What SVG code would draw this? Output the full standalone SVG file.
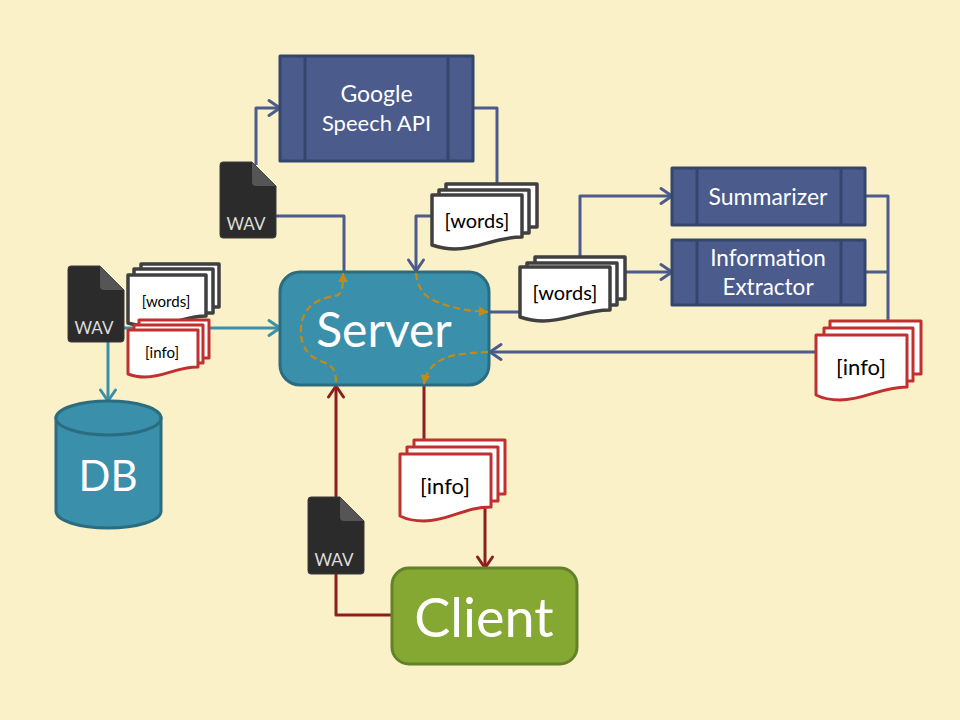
<svg xmlns="http://www.w3.org/2000/svg" width="960" height="720" viewBox="0 0 960 720">
<style>
text{font-family:"Lato","Liberation Sans",sans-serif;text-anchor:middle}
.w{fill:#fff}
.c{fill:none;stroke-width:3;stroke-linejoin:round}
.b{stroke:#4a5b8c}.t{stroke:#3a8fa9}.r{stroke:#8b1f1f}
.o{fill:none;stroke:#c48a14;stroke-width:2.2;stroke-dasharray:7 4}
.box{fill:#4a5b8c;stroke:#34466e;stroke-width:3;stroke-linejoin:round}
.in{fill:none;stroke:#34466e;stroke-width:3}
.pg{fill:#fff;stroke-width:3;stroke-linejoin:round}
.gr{stroke:#404040;stroke-width:3.500}.re{stroke:#c0302f}
.wv{fill:#2b2b2b;stroke:#3a3a3a;stroke-width:1;stroke-linejoin:round}
.fd{fill:#555}
.wt{fill:#ddd;font-size:17px}
.dt{fill:#000}
</style>
<defs>
<marker id="ab" markerUnits="userSpaceOnUse" markerWidth="20" markerHeight="20" refX="17" refY="10" orient="auto"><path d="M6 2.500L17 10L6 17.500" fill="none" stroke="#4a5b8c" stroke-width="3" stroke-linecap="round" stroke-linejoin="round"/></marker>
<marker id="at" markerUnits="userSpaceOnUse" markerWidth="20" markerHeight="20" refX="17" refY="10" orient="auto"><path d="M6 2.500L17 10L6 17.500" fill="none" stroke="#3a8fa9" stroke-width="3" stroke-linecap="round" stroke-linejoin="round"/></marker>
<marker id="ar" markerUnits="userSpaceOnUse" markerWidth="20" markerHeight="20" refX="17" refY="10" orient="auto"><path d="M6 2.500L17 10L6 17.500" fill="none" stroke="#8b1f1f" stroke-width="3" stroke-linecap="round" stroke-linejoin="round"/></marker>
<marker id="ao" markerUnits="userSpaceOnUse" markerWidth="14" markerHeight="14" refX="12" refY="7" orient="auto"><path d="M3 2L12 7L3 12Z" fill="#c48a14"/></marker>
</defs>
<rect width="960" height="720" fill="#fbf1c8"/>
<g id="connectors">
<path class="c b" marker-end="url(#ab)" d="M256 165V108H280"/>
<path class="c b" d="M276 216H344V272"/>
<path class="c b" d="M473 108H497V186"/>
<path class="c b" marker-end="url(#ab)" d="M432 216H416V271"/>
<path class="c b" d="M489 312H522"/>
<path class="c b" marker-end="url(#ab)" d="M580 259V196H672"/>
<path class="c b" marker-end="url(#ab)" d="M625 272H672"/>
<path class="c b" d="M865 196H888V323M865 272H888"/>
<path class="c b" marker-end="url(#ab)" d="M818 352H490"/>
<path class="c r" d="M424 386V442"/>
<path class="c r" marker-end="url(#ar)" d="M485 505V568"/>
<path class="c r" marker-end="url(#ar)" d="M392 615H336V386"/>
<path class="c t" marker-end="url(#at)" d="M122 328H280"/>
<path class="c t" marker-end="url(#at)" d="M108 340V401"/>
</g>
<g id="server"><rect x="280" y="272" width="209" height="113" rx="20" fill="#3a90aa" stroke="#2a6c80" stroke-width="3"/><text x="384" y="347" font-size="48" class="w">Server</text></g>
<g id="client"><rect x="392" y="568" width="185" height="96" rx="17" fill="#84a832" stroke="#64802a" stroke-width="3"/><text x="484" y="637" font-size="54" class="w">Client</text></g>
<g id="db"><path d="M56 418V511C56 521 80 528 108 528S161 521 161 511V418Z" fill="#3a90aa" stroke="#2a6c80" stroke-width="3"/><ellipse cx="108.500" cy="418" rx="52.500" ry="17" fill="#3a90aa" stroke="#2a6c80" stroke-width="3"/><text x="108" y="491" font-size="42" class="w">DB</text></g>
<g id="google"><rect class="box" x="280" y="56" width="193" height="105"/><path class="in" d="M305 56V161M448 56V161"/><text x="376.500" y="102" font-size="23" class="w">Google</text><text x="376.500" y="131" font-size="22" class="w">Speech API</text></g>
<g id="summarizer"><rect class="box" x="672" y="168" width="193" height="57"/><path class="in" d="M697 168V225M841 168V225"/><text x="768" y="205" font-size="23" class="w">Summarizer</text></g>
<g id="extractor"><rect class="box" x="672" y="240" width="193" height="65"/><path class="in" d="M697 240V305M841 240V305"/><text x="768" y="266" font-size="22.500" class="w">Information</text><text x="768" y="295" font-size="22.500" class="w">Extractor</text></g>
<g id="wav-top"><path class="wv" d="M223 162H252L276 186V235Q276 238 273 238H223Q220 238 220 235V165Q220 162 223 162Z"/><path class="fd" d="M252 162L276 186H256Q252 186 252 182Z"/><text class="wt" x="246" y="230">WAV</text></g>
<g id="wav-left"><path class="wv" d="M71 266H100L124 290V339Q124 342 121 342H71Q68 342 68 339V269Q68 266 71 266Z"/><path class="fd" d="M100 266L124 290H104Q100 290 100 286Z"/><text class="wt" x="94" y="334">WAV</text></g>
<g id="wav-bottom"><path class="wv" d="M311 497H340L364 521V571Q364 574 361 574H311Q308 574 308 571V500Q308 497 311 497Z"/><path class="fd" d="M340 497L364 521H344Q340 521 340 517Z"/><text class="wt" x="334" y="566">WAV</text></g>
<g id="words-top"><rect class="pg gr" x="446" y="184" width="91" height="43"/><rect class="pg gr" x="439" y="190" width="90" height="43"/><path class="pg gr" d="M432 195H522V237C495 237 480 249 455 249C445 249 438 247 432 245Z"/><text class="dt" x="477" y="228" font-size="20">[words]</text></g>
<g id="words-mid"><rect class="pg gr" x="535" y="257" width="90" height="42"/><rect class="pg gr" x="527" y="263" width="90" height="42"/><path class="pg gr" d="M520 267H610V310C583 310 568 321 543 321C533 321 526 319 520 317Z"/><text class="dt" x="565" y="300" font-size="20">[words]</text></g>
<g id="info-right"><rect class="pg re" x="830" y="321" width="91" height="53"/><rect class="pg re" x="824" y="328" width="89" height="53"/><path class="pg re" d="M816 335H907V387C880 387 865 400 840 400C830 400 822 398 816 395Z"/><text class="dt" x="861" y="375" font-size="22">[info]</text></g>
<g id="info-bottom"><rect class="pg re" x="414" y="440" width="91" height="54"/><rect class="pg re" x="407" y="447" width="91" height="54"/><path class="pg re" d="M400 454H491V507C464 507 449 521 424 521C414 521 406 519 400 516Z"/><text class="dt" x="445" y="494" font-size="22">[info]</text></g>
<g id="words-small"><rect class="pg gr" x="141" y="264" width="78" height="43"/><rect class="pg gr" x="134" y="269" width="79" height="44"/><path class="pg gr" d="M128 275H206V316C185 316 170 326 150 326C140 326 134 325 128 323Z"/><text class="dt" x="166" y="307" font-size="15">[words]</text></g>
<g id="info-small"><rect class="pg re" x="139" y="320" width="70" height="38"/><rect class="pg re" x="134" y="325" width="69" height="38"/><path class="pg re" d="M128 330H198V367C176 367 165 377 145 377C138 377 133 376 128 374Z"/><text class="dt" x="162" y="358" font-size="15">[info]</text></g>
<g id="flows">
<path class="o" marker-end="url(#ao)" d="M336 382C336 362 325 365 313 357C303 350 300 338 301 327C303 305 320 298 335 296C343 295 343 285 343 273"/>
<path class="o" marker-end="url(#ao)" d="M416 273C418 295 432 300 440 303C455 309 470 311 488 312"/>
<path class="o" marker-end="url(#ao)" d="M488 352C470 353 455 354 445 358C432 364 426 372 424 384"/>
</g>
</svg>
